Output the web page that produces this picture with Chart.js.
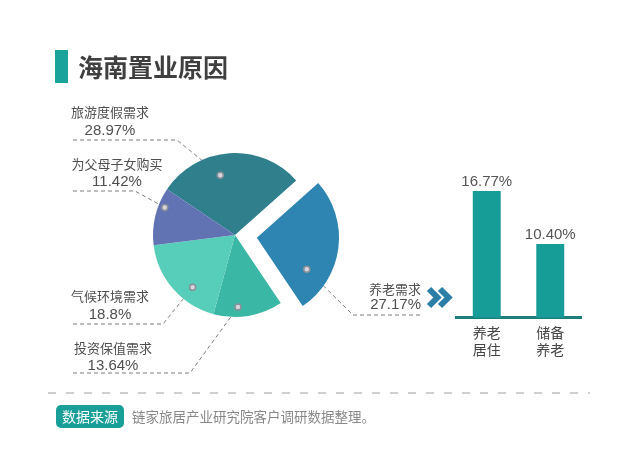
<!DOCTYPE html>
<html>
<head>
<meta charset="utf-8">
<script src="https://cdn.jsdelivr.net/npm/chart.js@4.4.0/dist/chart.umd.min.js"></script>
<style>
  body { margin: 0; background: #fff; font-family: "Liberation Sans", "Noto Sans CJK SC", sans-serif; }
  #wrap { position: relative; width: 640px; height: 460px; overflow: hidden; }
  canvas { position: absolute; }
  .txt { position: absolute; white-space: nowrap; color: #4f4f4f; line-height: 18px; height: 18px; width: 200px; }
  #titleBar { position: absolute; left: 55px; top: 50px; width: 13px; height: 33px; background: #1aa39b; }
  #title { position: absolute; left: 78px; top: 50px; line-height: 33px; font-size: 25px; font-weight: bold;
           color: #3f3f3f; font-family: "Noto Sans CJK SC", sans-serif; }
  #badge { position: absolute; left: 56px; top: 405px; width: 68px; height: 23px; line-height: 23px; border-radius: 5px;
           background: #1a9e98; color: #fff; font-size: 14px; text-align: center; font-family: "Noto Sans CJK SC", sans-serif; }
  #source { position: absolute; left: 132px; top: 405px; line-height: 23px; font-size: 13.5px; color: #888;
            font-family: "Noto Sans CJK SC", sans-serif; }
  svg { position: absolute; left: 0; top: 0; }
</style>
</head>
<body>
<div id="wrap">
  <canvas id="pie" width="640" height="460" style="left:0;top:0"></canvas>
  <canvas id="bar" width="127" height="215" style="left:455px;top:150px"></canvas>
  <svg width="640" height="460">
    <polyline points="429,289 437.5,297.5 429,306" fill="none" stroke="#2b7ea6" stroke-width="6"/>
    <polyline points="440,289 448.5,297.5 440,306" fill="none" stroke="#2b7ea6" stroke-width="6"/>
    <line x1="48" y1="393" x2="590" y2="393" stroke="#cfcfcf" stroke-width="2" stroke-dasharray="8 10"/>
  </svg>
  <div id="titleBar"></div>
  <div id="title">海南置业原因</div>
  <div id="badge">数据来源</div>
  <div id="source">链家旅居产业研究院客户调研数据整理。</div>
</div>
<script>
// pie: reasons for buying property in Hainan (%)
const pieLabels = ["旅游度假需求", "养老需求", "投资保值需求", "气候环境需求", "为父母子女购买"];
const pieValues = [28.97, 27.17, 13.64, 18.8, 11.42];
const pieColors = ["#2f7f8d", "#2e85b1", "#3bb7a6", "#57ceb9", "#6273b4"];
const pieOffsets = [0, 88, 0, 0, 0];

// bar: breakdown of 养老需求
const barLabels = [["养老", "居住"], ["储备", "养老"]];
const barValues = [16.77, 10.40];

// where each pie label and its dashed leader sit
const leaders = [
    { align: "center", x: 110, nameY: 113, valueY: 130, lineY: 140, lineX: 73, elbowX: 177, turn: -10, depth: 0.75 },
    { align: "right", x: 421, nameY: 290, valueY: 304, lineY: 315, lineX: 420, elbowX: 353, turn: 25, depth: 0.72 },
    { align: "center", x: 113, nameY: 349, valueY: 365, lineY: 373, lineX: 73, elbowX: 190, turn: 7, depth: 0.88 },
    { align: "center", x: 110, nameY: 297, valueY: 314, lineY: 324, lineX: 73, elbowX: 163, turn: -10, depth: 0.82 },
    { align: "center", x: 117, nameY: 165, valueY: 181, lineY: 191, lineX: 73, elbowX: 135, turn: 8, depth: 0.92 }
];

function dotPoint(arc, i) {
    const lay = leaders[i];
    const mid = (arc.startAngle + arc.endAngle) / 2;
    const shift = (arc.options.offset || 0) / 4;
    const a = mid + lay.turn * Math.PI / 180;
    const r = arc.outerRadius * lay.depth;
    return {
        x: arc.x + Math.cos(mid) * shift + Math.cos(a) * r,
        y: arc.y + Math.sin(mid) * shift + Math.sin(a) * r
    };
}

const leaderPlugin = {
    id: "leaders",
    beforeDatasetsDraw(chart) {
        const ctx = chart.ctx;
        ctx.save();
        ctx.strokeStyle = "#7d7d7d";
        ctx.lineWidth = 1;
        ctx.setLineDash([4, 3]);
        chart.getDatasetMeta(0).data.forEach((arc, i) => {
            const lay = leaders[i];
            const p = dotPoint(arc, i);
            ctx.beginPath();
            ctx.moveTo(lay.lineX, lay.lineY);
            ctx.lineTo(lay.elbowX, lay.lineY);
            ctx.lineTo(p.x, p.y);
            ctx.stroke();
        });
        ctx.restore();
    },
    afterDatasetsDraw(chart) {
        const ctx = chart.ctx;
        ctx.save();
        chart.getDatasetMeta(0).data.forEach((arc, i) => {
            const p = dotPoint(arc, i);
            ctx.beginPath();
            ctx.arc(p.x, p.y, 3, 0, Math.PI * 2);
            ctx.fillStyle = "#d4d8dc";
            ctx.fill();
            ctx.lineWidth = 1.5;
            ctx.strokeStyle = "#8a8f99";
            ctx.stroke();
        });
        ctx.restore();
    }
};

new Chart(document.getElementById("pie"), {
    type: "pie",
    data: {
        labels: pieLabels,
        datasets: [{
            data: pieValues,
            backgroundColor: pieColors,
            offset: pieOffsets,
            borderWidth: 0
        }]
    },
    options: {
        responsive: false,
        animation: false,
        events: [],
        rotation: -56,
        radius: 82,
        layout: { padding: { left: 0, right: 170, top: 10, bottom: 0 } },
        plugins: { legend: { display: false }, tooltip: { enabled: false } }
    },
    plugins: [leaderPlugin]
});

// pie label text
const wrap = document.getElementById("wrap");
function addText(text, lay, y, size) {
    const d = document.createElement("div");
    d.className = "txt";
    d.textContent = text;
    d.style.fontSize = size + "px";
    d.style.top = (y - 9) + "px";
    if (lay.align === "right") {
        d.style.left = (lay.x - 200) + "px";
        d.style.textAlign = "right";
    } else {
        d.style.left = (lay.x - 100) + "px";
        d.style.textAlign = "center";
    }
    wrap.appendChild(d);
}
pieLabels.forEach((name, i) => {
    addText(name, leaders[i], leaders[i].nameY, 13);
    addText(String(pieValues[i]) + "%", leaders[i], leaders[i].valueY, 15);
});

const valuePlugin = {
    id: "barValues",
    afterDatasetsDraw(chart) {
        const ctx = chart.ctx;
        ctx.save();
        ctx.font = "15px 'Liberation Sans', sans-serif";
        ctx.fillStyle = "#555";
        ctx.textAlign = "center";
        ctx.textBaseline = "bottom";
        chart.getDatasetMeta(0).data.forEach((bar, i) => {
            ctx.fillText(barValues[i].toFixed(2) + "%", bar.x, bar.y - 2);
        });
        ctx.restore();
    }
};

new Chart(document.getElementById("bar"), {
    type: "bar",
    data: {
        labels: barLabels,
        datasets: [{
            data: barValues,
            backgroundColor: "#179d97",
            barPercentage: 0.44,
            categoryPercentage: 1
        }]
    },
    options: {
        responsive: false,
        animation: false,
        events: [],
        layout: { padding: 0 },
        plugins: { legend: { display: false }, tooltip: { enabled: false } },
        scales: {
            x: {
                grid: { display: false, drawTicks: false },
                border: { color: "#1c7f7d", width: 3 },
                ticks: { color: "#444", padding: 7, font: { size: 14, family: "'Noto Sans CJK SC', sans-serif" } }
            },
            y: { display: false, min: 1.6, max: 21.7 }
        }
    },
    plugins: [valuePlugin]
});
</script>
</body>
</html>
